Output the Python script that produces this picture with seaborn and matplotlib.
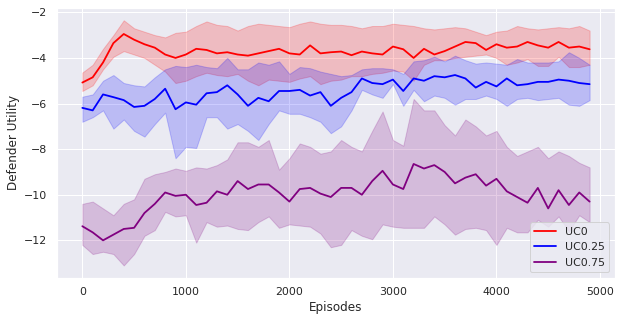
import matplotlib

matplotlib.use("Agg")
import matplotlib.pyplot as plt
import numpy as np
import seaborn as sns

episodes = list(range(0, 5000, 100))

uc0_mean = [-5.08, -4.85, -4.2, -3.35, -2.95, -3.2, -3.4, -3.55, -3.85, -4.0,
            -3.85, -3.6, -3.65, -3.8, -3.75, -3.85, -3.9, -3.8, -3.7, -3.6,
            -3.8, -3.85, -3.45, -3.8, -3.75, -3.72, -3.88, -3.72, -3.8, -3.85,
            -3.5, -3.62, -4.0, -3.6, -3.85, -3.7, -3.5, -3.3, -3.35, -3.65,
            -3.4, -3.55, -3.5, -3.3, -3.45, -3.55, -3.3, -3.55, -3.5, -3.62]
uc0_upper = [-4.64, -4.3, -3.6, -3.0, -2.35, -2.7, -2.85, -3.0, -3.1, -2.9,
             -2.85, -2.6, -2.4, -2.55, -2.6, -2.8, -2.6, -2.5, -2.55, -2.6,
             -2.65, -2.5, -2.4, -2.5, -2.55, -2.55, -2.6, -2.7, -2.6, -2.6,
             -2.5, -2.55, -2.6, -2.7, -2.75, -2.7, -2.65, -2.7, -2.85, -3.0,
             -2.85, -2.8, -2.6, -2.7, -2.75, -2.7, -2.65, -2.7, -2.6, -2.8]
uc0_lower = [-5.45, -5.2, -4.5, -3.95, -3.7, -3.85, -4.0, -4.3, -4.6, -5.1,
             -5.0, -4.8, -4.65, -4.75, -4.8, -4.7, -5.0, -5.2, -4.95, -5.0,
             -5.05, -4.9, -4.8, -5.15, -5.0, -4.95, -4.8, -4.8, -4.7, -4.65,
             -4.55, -4.6, -5.0, -4.3, -4.1, -4.1, -4.0, -3.95, -3.9, -3.85,
             -4.0, -4.3, -4.2, -4.05, -4.35, -4.35, -3.95, -4.4, -4.4, -4.3]

uc025_mean = [-6.19, -6.3, -5.6, -5.72, -5.85, -6.15, -6.1, -5.8, -5.35, -6.25,
              -5.95, -6.05, -5.55, -5.5, -5.2, -5.6, -6.1, -5.75, -5.9, -5.45,
              -5.45, -5.4, -5.65, -5.5, -6.1, -5.75, -5.5, -4.9, -5.1, -5.15,
              -4.95, -5.45, -4.9, -5.0, -4.8, -4.85, -4.75, -4.9, -5.3, -5.05,
              -5.25, -4.9, -5.2, -5.15, -5.05, -5.05, -4.95, -5.0, -5.1, -5.15]
uc025_upper = [-5.7, -5.6, -5.0, -4.75, -5.1, -5.2, -5.25, -4.85, -4.5, -4.35,
               -4.4, -4.3, -4.4, -4.45, -4.0, -4.5, -4.5, -4.2, -4.3, -4.15,
               -4.7, -4.4, -4.45, -4.6, -4.7, -4.8, -4.75, -4.5, -4.45, -4.45,
               -4.5, -4.7, -4.15, -4.1, -3.95, -4.15, -3.9, -4.1, -4.25, -4.2,
               -4.25, -4.3, -4.05, -4.2, -4.2, -4.2, -4.15, -3.75, -4.0, -4.3]
uc025_lower = [-6.8, -6.6, -6.3, -7.1, -6.7, -7.2, -7.45, -6.9, -6.4, -8.4,
               -7.9, -7.95, -6.6, -6.6, -7.1, -6.9, -7.2, -7.6, -6.9, -6.3,
               -6.45, -6.45, -6.6, -6.8, -7.3, -7.0, -6.3, -5.4, -5.6, -5.75,
               -5.15, -6.1, -5.4, -5.9, -5.65, -5.75, -6.05, -5.8, -5.8, -5.65,
               -5.8, -6.1, -5.8, -5.75, -5.85, -5.8, -5.75, -6.05, -6.1, -5.85]

uc075_mean = [-11.38, -11.65, -12.0, -11.75, -11.5, -11.45, -10.8, -10.4, -9.9, -10.05,
              -10.0, -10.45, -10.35, -9.85, -10.0, -9.4, -9.75, -9.55, -9.55, -9.9,
              -10.3, -9.75, -9.7, -9.95, -10.1, -9.7, -9.7, -10.0, -9.4, -8.95,
              -9.55, -9.75, -8.65, -8.85, -8.7, -9.0, -9.5, -9.25, -9.1, -9.6,
              -9.3, -9.85, -10.1, -10.35, -9.7, -10.6, -9.8, -10.45, -9.9, -10.3]
uc075_upper = [-10.4, -10.3, -10.6, -10.9, -10.4, -10.2, -9.3, -9.1, -9.0, -8.85,
               -8.95, -8.8, -8.85, -8.7, -8.45, -7.7, -7.7, -7.9, -7.6, -8.9,
               -8.4, -7.75, -7.9, -8.2, -8.1, -7.6, -7.9, -8.1, -7.2, -6.35,
               -7.6, -7.85, -5.8, -6.3, -6.3, -6.95, -7.4, -6.7, -7.0, -7.4,
               -7.2, -7.9, -8.3, -8.1, -7.9, -8.4, -8.1, -8.3, -8.6, -8.8]
uc075_lower = [-12.2, -12.6, -12.5, -12.6, -13.1, -12.6, -11.8, -11.55, -10.75, -10.95,
               -10.9, -12.1, -11.2, -11.4, -11.35, -11.5, -11.55, -11.2, -10.95, -11.45,
               -11.3, -11.35, -11.4, -11.7, -12.3, -12.2, -11.55, -11.8, -11.95, -11.3,
               -11.4, -11.45, -11.45, -11.45, -10.95, -11.3, -11.75, -11.5, -11.45, -11.55,
               -12.2, -11.45, -11.65, -11.65, -11.1, -11.4, -10.95, -11.6, -10.9, -11.2]

series = [
    ("UC0", uc0_mean, uc0_lower, uc0_upper, "red"),
    ("UC0.25", uc025_mean, uc025_lower, uc025_upper, "blue"),
    ("UC0.75", uc075_mean, uc075_lower, uc075_upper, "purple"),
]

sns.set_theme(style="darkgrid")
fig, ax = plt.subplots(figsize=(622 / 72, 322 / 72), dpi=72)
fig.subplots_adjust(left=0.0916, right=0.9887, bottom=0.1376, top=0.975)

for label, mean, lower, upper, color in series:
    sns.lineplot(x=episodes, y=mean, color=color, label=label, linewidth=1.8, ax=ax)
    ax.fill_between(episodes, lower, upper, color=color, alpha=0.2)

ax.set_xlabel("Episodes")
ax.set_ylabel("Defender Utility")
ax.set_yticks(np.arange(-12, -1, 2))
ax.legend(loc="lower right")

fig.savefig("out.png", dpi=72)
